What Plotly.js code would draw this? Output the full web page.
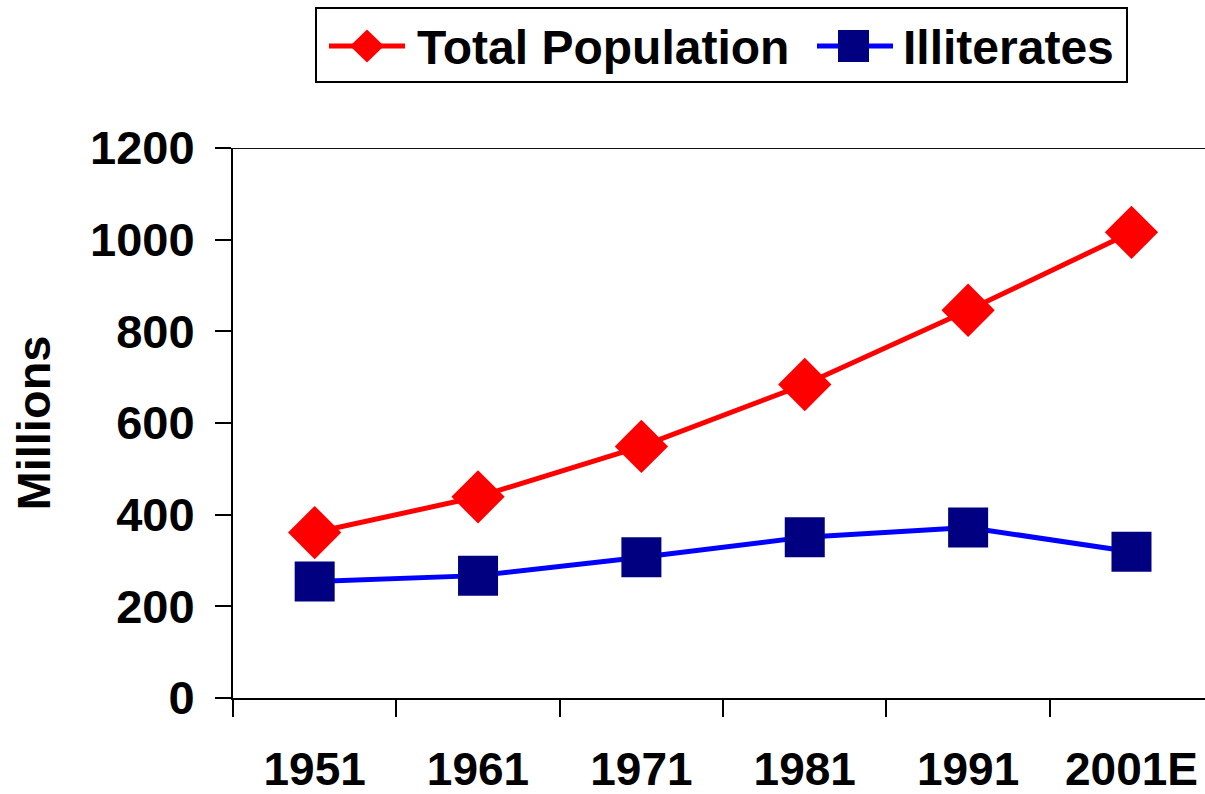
<!DOCTYPE html>
<html>
<head>
<meta charset="utf-8">
<script src="https://cdn.plot.ly/plotly-3.0.1.min.js"></script>
<style>html,body{margin:0;padding:0;background:#fff;}#chart{width:1205px;height:794px;}</style>
</head>
<body>
<div id="chart"></div>
<script>
const years = ['1951', '1961', '1971', '1981', '1991', '2001E'];
const totalPopulation = [361, 439, 549, 684, 846, 1016];
const illiterates = [254, 267, 307, 351, 372, 319];
const seriesNames = ['Total Population', 'Illiterates'];
const yTicks = [0, 200, 400, 600, 800, 1000, 1200];

const FONT = 'Liberation Sans, Arial, Helvetica, sans-serif';
const L = 233, T = 148, W = 972, H = 550;
const px = x => (x - L) / W;
const py = y => (T + H - y) / H;

const traces = [
  {
    x: years, y: totalPopulation, name: seriesNames[0], type: 'scatter', mode: 'lines+markers',
    line: {color: '#FF0000', width: 5},
    marker: {symbol: 'diamond', size: 41, color: '#FF0000', line: {width: 0}},
    cliponaxis: false
  },
  {
    x: years, y: illiterates, name: seriesNames[1], type: 'scatter', mode: 'lines+markers',
    line: {color: '#0000FF', width: 5},
    marker: {symbol: 'square', size: 40, color: '#000080', line: {width: 0}},
    cliponaxis: false
  }
];

function diamondPath(cx, cy, hw, hh) {
  return 'M' + px(cx - hw) + ',' + py(cy) + ' L' + px(cx) + ',' + py(cy - hh) +
         ' L' + px(cx + hw) + ',' + py(cy) + ' L' + px(cx) + ',' + py(cy + hh) + ' Z';
}

const shapes = [
  {type: 'line', xref: 'paper', yref: 'y', x0: 0, x1: 1, y0: 1200, y1: 1200, line: {color: '#111', width: 2}},
  {type: 'rect', xref: 'paper', yref: 'paper', x0: px(316), x1: px(1127), y0: py(82), y1: py(8), line: {color: '#000', width: 2}, fillcolor: 'rgba(0,0,0,0)'},
  {type: 'line', xref: 'paper', yref: 'paper', x0: px(329), x1: px(405), y0: py(46), y1: py(46), line: {color: '#FF0000', width: 5}},
  {type: 'path', xref: 'paper', yref: 'paper', path: diamondPath(367, 46, 17, 16.5), fillcolor: '#FF0000', line: {width: 0}},
  {type: 'line', xref: 'paper', yref: 'paper', x0: px(817), x1: px(893), y0: py(46), y1: py(46), line: {color: '#0000FF', width: 5}},
  {type: 'rect', xref: 'paper', yref: 'paper', x0: px(838), x1: px(869), y0: py(62), y1: py(30), fillcolor: '#000080', line: {width: 0}}
];

const annotations = [
  {xref: 'paper', yref: 'paper', x: px(415), y: py(47), xanchor: 'left', yanchor: 'middle', showarrow: false,
   text: seriesNames[0], font: {family: FONT, size: 48, color: '#000', weight: 'bold'}},
  {xref: 'paper', yref: 'paper', x: px(901), y: py(47), xanchor: 'left', yanchor: 'middle', showarrow: false,
   text: seriesNames[1], font: {family: FONT, size: 48, color: '#000', weight: 'bold'}}
];

const layout = {
  width: 1205, height: 794,
  margin: {l: L, r: 0, t: T, b: 794 - T - H, pad: 0},
  paper_bgcolor: '#fff', plot_bgcolor: '#fff',
  showlegend: false,
  font: {family: FONT, color: '#000'},
  xaxis: {
    type: 'category', range: [-0.5, 5.45], tickson: 'boundaries',
    showgrid: false, zeroline: false,
    showline: true, linecolor: '#000', linewidth: 2,
    ticks: 'outside', ticklen: 17, tickwidth: 2, tickcolor: '#000',
    tickfont: {family: FONT, size: 46, color: '#000', weight: 'bold'},
    ticklabelstandoff: 30,
    fixedrange: true
  },
  yaxis: {
    range: [0, 1200], tickvals: yTicks, ticktext: yTicks.map(String),
    showgrid: false, zeroline: false,
    showline: true, linecolor: '#000', linewidth: 2,
    ticks: 'outside', ticklen: 16, tickwidth: 2, tickcolor: '#000',
    tickfont: {family: FONT, size: 47, color: '#000', weight: 'bold'},
    ticklabelstandoff: 11,
    title: {text: 'Millions', font: {family: FONT, size: 47, color: '#000', weight: 'bold'}, standoff: 25},
    automargin: false,
    fixedrange: true
  },
  shapes: shapes,
  annotations: annotations
};

Plotly.newPlot('chart', traces, layout, {displayModeBar: false, staticPlot: true});
</script>
</body>
</html>
